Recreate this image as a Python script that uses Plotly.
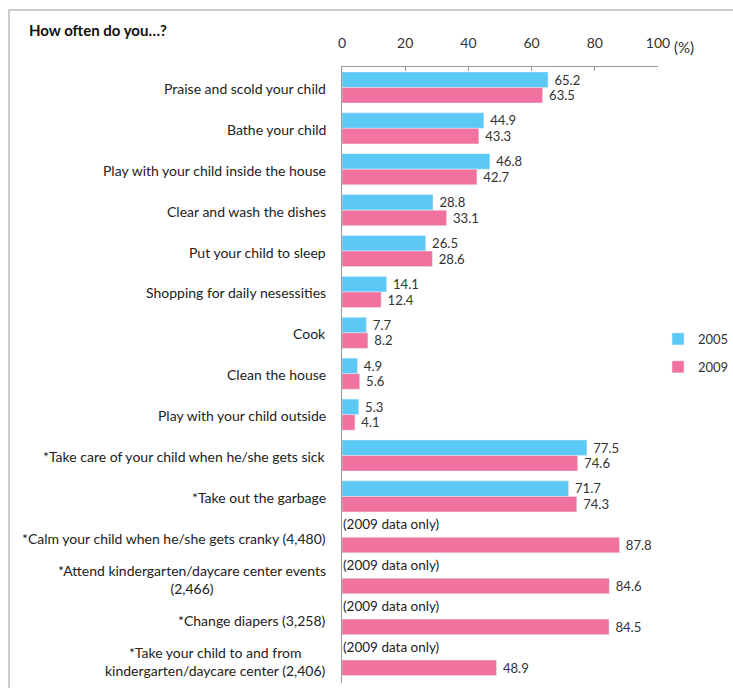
import plotly.graph_objects as go

categories = [
    "Praise and scold your child",
    "Bathe your child",
    "Play with your child inside the house",
    "Clear and wash the dishes",
    "Put your child to sleep",
    "Shopping for daily nesessities",
    "Cook",
    "Clean the house",
    "Play with your child outside",
    "*Take care of your child when he/she gets sick",
    "*Take out the garbage",
    "*Calm your child when he/she gets cranky (4,480)",
    "*Attend kindergarten/daycare center events<br>(2,466)",
    "*Change diapers (3,258)",
    "*Take your child to and from<br>kindergarten/daycare center (2,406)",
]
values_2005 = [65.2, 44.9, 46.8, 28.8, 26.5, 14.1, 7.7, 4.9, 5.3, 77.5, 71.7, None, None, None, None]
values_2009 = [63.5, 43.3, 42.7, 33.1, 28.6, 12.4, 8.2, 5.6, 4.1, 74.6, 74.3, 87.8, 84.6, 84.5, 48.9]
only_2009_rows = categories[11:]
tick_vals = [0, 20, 40, 60, 80, 100]

FONT = "Lato, 'Open Sans', sans-serif"
BLUE = "#5CC8F5"
PINK = "#F1729E"

W, H = 733, 688
L, R, T, B = 342, 75, 67, 5
pw, ph = W - L - R, H - T - B
def px(x):
    return (x - L) / pw
def py(y):
    return 1 - (y - T) / ph

def fmt(v):
    return "" if v is None else f" {v:.1f}"

fig = go.Figure()
fig.add_trace(go.Bar(
    y=categories, x=values_2005, orientation="h", name="2005",
    marker=dict(color=BLUE), text=[fmt(v) for v in values_2005],
    textposition="outside", cliponaxis=False,
    textfont=dict(family=FONT, size=13.5, color="#333"), legendgroup="a",
))
fig.add_trace(go.Bar(
    y=categories, x=values_2009, orientation="h", name="2009",
    marker=dict(color=PINK), text=[fmt(v) for v in values_2009],
    textposition="outside", cliponaxis=False,
    textfont=dict(family=FONT, size=13.5, color="#333"), legendgroup="b",
))

annotations = []
for c in categories:
    annotations.append(dict(
        x=0, xref="paper", y=c, yref="y", text=c, showarrow=False,
        xanchor="right", align="center", xshift=-14, yshift=-1,
        font=dict(family=FONT, size=14, color="#222"),
    ))
for c in only_2009_rows:
    annotations.append(dict(
        x=0, xref="x", y=c, yref="y", text="(2009 data only)", showarrow=False,
        xanchor="left", xshift=-1, yshift=13,
        font=dict(family=FONT, size=13.5, color="#222"),
    ))
annotations.append(dict(
    x=px(672), xref="paper", y=py(47), yref="paper", text="(%)", showarrow=False,
    xanchor="left", yanchor="middle",
    font=dict(family=FONT, size=15, color="#333"),
))
annotations.append(dict(
    x=px(27), xref="paper", y=py(30), yref="paper", text="<b>How often do you…?</b>",
    showarrow=False, xanchor="left", yanchor="middle",
    font=dict(family=FONT, size=15, color="#111"),
))

fig.update_layout(
    width=W, height=H,
    margin=dict(l=L, r=R, t=T, b=B, autoexpand=False),
    paper_bgcolor="white", plot_bgcolor="white",
    barmode="group", bargap=0.24, bargroupgap=0.0,
    font=dict(family=FONT, size=13, color="#333"),
    xaxis=dict(
        side="top", range=[0, 100], tickvals=tick_vals, showgrid=False,
        zeroline=False, showline=True, linecolor="#999", linewidth=1,
        ticks="inside", ticklen=4, tickcolor="#999",
        ticklabelstandoff=12,
        tickfont=dict(family=FONT, size=14, color="#333"),
    ),
    yaxis=dict(
        autorange="reversed", showticklabels=False, showgrid=False,
        showline=True, linecolor="#999", linewidth=1, ticks="",
    ),
    legend=dict(
        x=px(658), y=py(324), xanchor="left", yanchor="top",
        font=dict(family=FONT, size=13, color="#333"),
        tracegroupgap=8, itemwidth=30, bgcolor="rgba(0,0,0,0)",
    ),
    annotations=annotations,
    shapes=[dict(
        type="rect", xref="paper", yref="paper",
        x0=px(9), x1=px(770), y0=py(10), y1=py(720),
        line=dict(color="#BDBDBD", width=1.5), fillcolor="rgba(0,0,0,0)",
        layer="below",
    )],
)

fig.write_html(
    "out.html",
    config={"displayModeBar": False},
    post_script="document.body.style.margin='0';document.body.style.overflow='hidden';",
)
